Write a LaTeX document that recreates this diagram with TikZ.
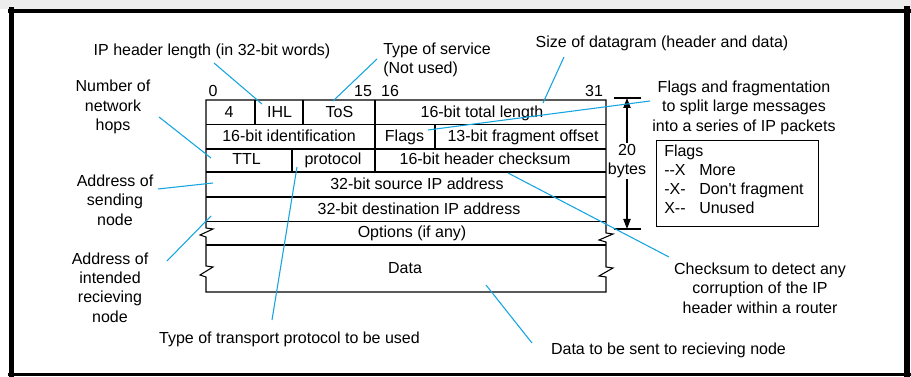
\documentclass[tikz,border=0pt]{standalone}
\usepackage{fontspec}
\setmainfont{Liberation Sans}[Ligatures=TeXOff]
\usetikzlibrary{arrows.meta}
\definecolor{leader}{RGB}{20,165,225}
\begin{document}
\begin{tikzpicture}[x=0.75pt,y=-0.75pt,
  every node/.style={inner sep=0pt,font=\fontsize{12}{14.6}\selectfont},
  cell/.style={text height=8.6pt,text depth=2.4pt,anchor=center},
  lbl/.style={align=center,anchor=center},
  grid/.style={line width=0.8pt},
  lead/.style={draw=leader,line width=0.8pt},
  frame/.style={line cap=rect}]
\useasboundingbox (0,0) rectangle (911,377);
\fill[black!7] (0,0) rectangle (911,9);
\fill[white] (9,9) rectangle (910,376);

% outer frame
\draw[frame,line width=3.75pt] (11.5,9.5) -- (11.5,375);
\draw[frame,line width=3pt] (9.5,11) -- (909,11);
\draw[frame,line width=4.5pt] (907,9.5) -- (907,375);
\draw[frame,line width=2.25pt] (9.5,374.5) -- (909,374.5);

% datagram outline with break marks
\draw[grid,line join=miter] (206,100) -- (206,228) -- (213,229) -- (200,235) -- (206,237)
  -- (206,266) -- (213,267) -- (200,275) -- (206,277) -- (206,292) -- (606,292)
  -- (606,277) -- (599,276) -- (613,268) -- (606,267) -- (606,242) -- (599,240)
  -- (613,234) -- (606,233) -- (606,100) -- cycle;
% row separators
\foreach \yy in {124.5,149,172,197,221.5,245}
  \draw[grid] (206,\yy) -- (606,\yy);
% field separators
\draw[grid] (255,100) -- (255,124.5);
\draw[grid] (303,100) -- (303,124.5);
\draw[grid] (375,100) -- (375,172);
\draw[grid] (435,124.5) -- (435,149);
\draw[grid] (292,149) -- (292,172);

% bit positions
\node[cell] (b0)  at (213,92) {0};
\node[cell] (b15) at (363,92) {15};
\node[cell] (b16) at (390,92) {16};
\node[cell] (b31) at (594,92) {31};

% header fields
\node[cell] (ver)   at (229,113) {4};
\node[cell] (ihl)   at (279.5,113) {IHL};
\node[cell] (tos)   at (339.5,113) {ToS};
\node[cell] (tlen)  at (482,113) {16-bit total length};
\node[cell] (ident) at (289,137.5) {16-bit identification};
\node[cell] (flg)   at (404.5,137.5) {Flags};
\node[cell] (foff)  at (523,137.5) {13-bit fragment offset};
\node[cell] (ttl)   at (246.5,160.5) {TTL};
\node[cell] (proto) at (333,160.5) {protocol};
\node[cell] (csum)  at (485,160.5) {16-bit header checksum};
\node[cell] (src)   at (417,185.5) {32-bit source IP address};
\node[cell] (dst)   at (419,210) {32-bit destination IP address};
\node[cell] (opt)   at (412,233.5) {Options (if any)};
\node[cell] (dat)   at (405,269) {Data};

% header size dimension
\coordinate (dtop) at (627,98);
\coordinate (dbot) at (627,229);
\draw[grid] (614,98) -- (641,98);
\draw[grid] (614,229) -- (641,229);
\draw[grid,{Triangle[length=7.5pt,width=5.5pt]}-{Triangle[length=7.5pt,width=5.5pt]}] (dtop) -- (dbot);
\node[lbl,fill=white,inner sep=1pt] (size) at (627,161) {20\\bytes};

% flag bits legend
\node[draw,grid,minimum width=162*0.75pt,minimum height=86*0.75pt,anchor=north west] (legend) at (656,140) {};
\node[cell,anchor=west] (lgT) at (664,152) {Flags};
\node[cell,anchor=west] (lg1) at (664,171.5) {--X};
\node[cell,anchor=west] (lg2) at (664,190.5) {-X-};
\node[cell,anchor=west] (lg3) at (664,209.5) {X--};
\node[cell,anchor=west] (lg1t) at (699,171.5) {More};
\node[cell,anchor=west] (lg2t) at (699,190.5) {Don't fragment};
\node[cell,anchor=west] (lg3t) at (699,209.5) {Unused};

% annotations
\node[lbl] (nIHL)  at (212,51) {IP header length (in 32-bit words)};
\node[lbl,align=left,anchor=west] (nToS) at (383,60) {Type of service\\(Not used)};
\node[lbl] (nLen)  at (662,43) {Size of datagram (header and data)};
\node[lbl] (nFrag) at (744,107.5) {Flags and fragmentation\\to split large messages\\into a series of IP packets};
\node[lbl] (nTTL)  at (113,107) {Number of\\network\\hops};
\node[lbl] (nSrc)  at (115,200) {Address of\\sending\\node};
\node[lbl] (nDst)  at (110,287.5) {Address of\\intended\\recieving\\node};
\node[lbl] (nProt) at (289.5,339) {Type of transport protocol to be used};
\node[lbl] (nSum)  at (760,288) {Checksum to detect any\\corruption of the IP\\header within a router};
\node[lbl] (nDat)  at (668.5,350) {Data to be sent to recieving node};

% leader line end points
\coordinate (aIHL1) at (214,63);   \coordinate (aIHL2) at (262,104);
\coordinate (aToS1) at (377,59);   \coordinate (aToS2) at (333,101);
\coordinate (aLen1) at (564,57);   \coordinate (aLen2) at (543,103);
\coordinate (aFrg1) at (650,101);  \coordinate (aFrg2) at (428,130);
\coordinate (aTTL1) at (159,117);  \coordinate (aTTL2) at (211,158);
\coordinate (aSrc1) at (158,189);  \coordinate (aSrc2) at (213,183);
\coordinate (aDst1) at (167,261);  \coordinate (aDst2) at (211,216);
\coordinate (aPro1) at (272,320);  \coordinate (aPro2) at (297,167);
\coordinate (aSum1) at (669,257);  \coordinate (aSum2) at (508,173);
\coordinate (aDat1) at (532,343);  \coordinate (aDat2) at (486,285);

% leader lines
\draw[lead] (aIHL1) -- (aIHL2);
\draw[lead] (aToS1) -- (aToS2);
\draw[lead] (aLen1) -- (aLen2);
\draw[lead] (aFrg1) -- (aFrg2);
\draw[lead] (aTTL1) -- (aTTL2);
\draw[lead] (aSrc1) -- (aSrc2);
\draw[lead] (aDst1) -- (aDst2);
\draw[lead] (aPro1) -- (aPro2);
\draw[lead] (aSum1) -- (aSum2);
\draw[lead] (aDat1) -- (aDat2);
\end{tikzpicture}
\end{document}
